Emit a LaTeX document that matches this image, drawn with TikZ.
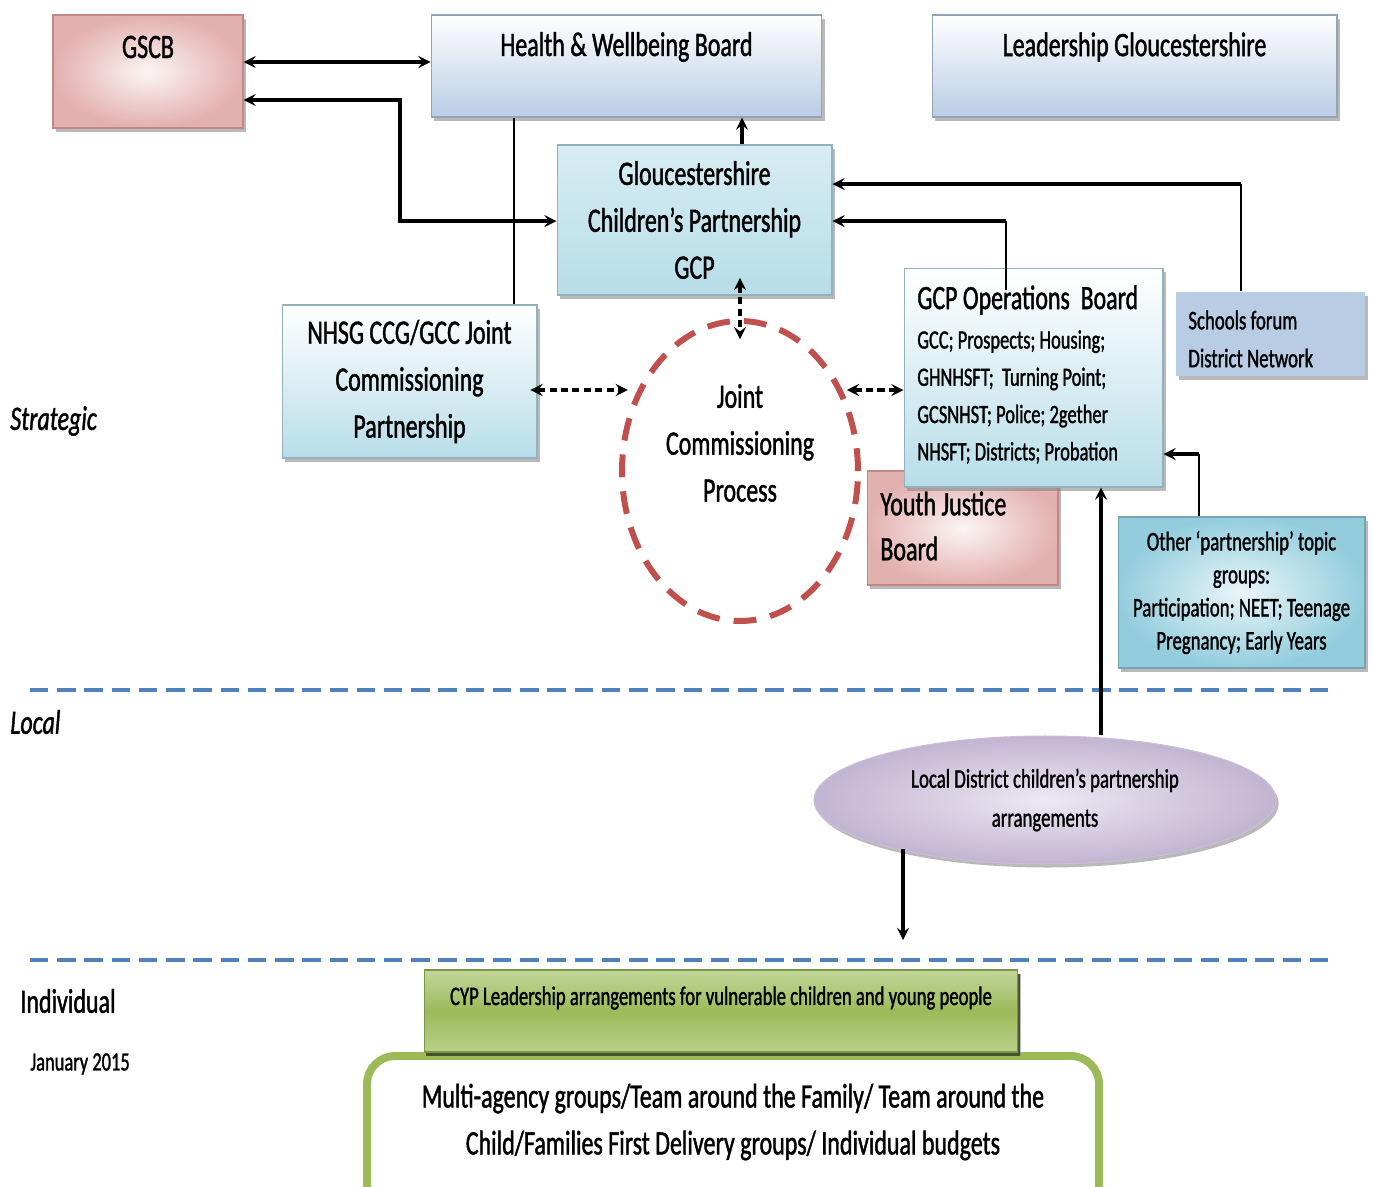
\documentclass[tikz,border=0pt]{standalone}
\usepackage{fontspec}
\setmainfont{Carlito}[FakeStretch=0.7,UprightFeatures={FakeBold=1.2},ItalicFeatures={FakeBold=1.2}]
\usetikzlibrary{shapes.geometric,shadows}
\definecolor{boxblue}{HTML}{B9CDE5}
\definecolor{boxcyan}{HTML}{B7DDE8}
\definecolor{boxteal}{HTML}{93CDDD}
\definecolor{boxred}{HTML}{D99694}
\definecolor{boxsteel}{HTML}{B8CCE4}
\definecolor{boxpurple}{HTML}{B3A2C7}
\definecolor{boxgreen}{HTML}{9BBB59}
\definecolor{lineblue}{HTML}{4F81BD}
\definecolor{circred}{HTML}{C0504D}
\newcommand\bigtxt{\fontsize{19.5}{26.7}\selectfont}
\newcommand\smalltxt{\fontsize{15}{21.2}\selectfont}
\begin{document}
\begin{tikzpicture}[>=stealth,x=0.02cm,y=-0.02cm,
	shadowed/.style={drop shadow={shadow xshift=1.5pt,shadow yshift=-2pt,fill=black!50,opacity=0.55}},
	base/.style={rectangle,inner sep=0pt,line width=0.6pt,shadowed},
	bluebox/.style={base,draw=boxblue!80!black,top color=white,bottom color=boxblue},
	cyanbox/.style={base,draw=boxcyan!80!black,top color=white,bottom color=boxcyan},
	redbox/.style={base,draw=boxred!90!black,inner color=boxred!10!white,outer color=boxred!75!white},
	arr/.style={line width=2pt},
	thinline/.style={line width=0.9pt},
	dasharr/.style={line width=2pt,dash pattern=on 4pt off 2.5pt},
	level/.style={lineblue,line width=2.3pt,dash pattern=on 10.5pt off 5pt},
	lbl/.style={anchor=west,inner sep=0pt}]
	\useasboundingbox (0,0) rectangle (1373,1187);
	% top row
	\node[redbox,minimum width=3.8cm,minimum height=2.26cm] (gscb) at (148,71.5) {};
	\node[font=\bigtxt] (gscbtxt) at (148,47) {GSCB};
	\node[bluebox,minimum width=7.82cm,minimum height=2.04cm] (hw) at (626.5,66) {};
	\node[font=\bigtxt] (hwtxt) at (626.5,47) {Health \& Wellbeing Board};
	\node[bluebox,minimum width=8.1cm,minimum height=2.04cm] (lead) at (1134.5,66) {};
	\node[font=\bigtxt] (leadtxt) at (1134.5,47) {Leadership Gloucestershire};
	% strategic level
	\node[base,draw=boxcyan!80!black,top color=boxcyan!55!white,bottom color=boxcyan,minimum width=5.5cm,minimum height=3cm,align=center,font=\bigtxt] (gcp) at (694.5,220) {Gloucestershire\\Children’s Partnership\\GCP};
	\node[cyanbox,minimum width=5.1cm,minimum height=3.06cm,align=center,font=\bigtxt] (nhsg) at (409.5,381.5) {NHSG CCG/GCC Joint\\Commissioning\\Partnership};
	\node[ellipse,draw=circred,line width=3.4pt,dash pattern=on 13pt off 8pt,minimum width=4.72cm,minimum height=6cm,inner sep=0pt] (jcp) at (740,471) {};
	\node[align=center,font=\bigtxt] (jcptxt) at (740,443) {Joint\\Commissioning\\Process};
	\node[redbox,minimum width=3.82cm,minimum height=2.28cm] (yjb) at (962.5,528) {};
	\node[lbl,align=left,font=\fontsize{19.5}{25.6}\selectfont] (yjbtxt) at (880,526) {Youth Justice\\Board};
	\node[cyanbox,minimum width=5.18cm,minimum height=4.38cm] (ops) at (1033.5,377.5) {};
	\node[lbl,font=\fontsize{19.4}{22}\selectfont] (opstitle) at (917,300) {GCP Operations\ \ Board};
	\node[lbl,align=left,font=\smalltxt] (opstxt) at (917,397) {GCC; Prospects; Housing;\\GHNHSFT;\ \ Turning Point;\\GCSNHST; Police; 2gether\\NHSFT; Districts; Probation};
	\node[base,fill=boxsteel,minimum width=3.78cm,minimum height=1.68cm] (schools) at (1270.5,334) {};
	\node[lbl,align=left,font=\fontsize{15.3}{21.6}\selectfont] (schoolstxt) at (1188,339) {Schools forum\\District Network};
	\node[base,draw=boxteal!80!black,inner color=boxteal!20!white,outer color=boxteal,minimum width=4.94cm,minimum height=3.02cm,align=center,font=\fontsize{15.3}{18.8}\selectfont] (other) at (1241.5,592.5) {Other ‘partnership’ topic\\groups:\\Participation; NEET; Teenage\\Pregnancy; Early Years};
	% level labels
	\node[lbl,font=\itshape\fontsize{19.5}{24}\selectfont] (strategic) at (10,421) {Strategic};
	\node[lbl,font=\itshape\fontsize{19.5}{24}\selectfont] (local) at (10,722) {Local};
	\node[lbl,font=\fontsize{19.5}{24}\selectfont] (individual) at (20,1001) {Individual};
	\node[lbl,font=\fontsize{15}{18}\selectfont] (date) at (30,1064) {January 2015};
	\draw[level] (30,690) -- (1337,690);
	\draw[level] (30,960) -- (1337,960);
	% local and individual
	\node[ellipse,draw=boxpurple!70!white,line width=0.6pt,inner color=boxpurple!25!white,outer color=boxpurple!80!white,shadowed,minimum width=9.24cm,minimum height=2.56cm,inner sep=0pt,align=center,font=\fontsize{15.3}{22.2}\selectfont] (ldcp) at (1045,800) {Local District children’s partnership\\arrangements};
	\draw[boxgreen,line width=4.5pt,rounded corners=16pt,fill=white] (367,1240) -- (367,1056) -- (1099,1056) -- (1099,1240);
	\node[align=center,font=\bigtxt] (multi) at (733,1122) {Multi-agency groups/Team around the Family/ Team around the\\Child/Families First Delivery groups/ Individual budgets};
	\node[base,draw=boxgreen!80!black,top color=boxgreen!60!white,bottom color=boxgreen!70!white,middle color=boxgreen,drop shadow={shadow xshift=1pt,shadow yshift=-2.5pt,fill=boxgreen!40!black,opacity=0.9},minimum width=11.88cm,minimum height=1.64cm] (cyp) at (721,1011) {};
	\node[font=\fontsize{15.2}{18}\selectfont] (cyptxt) at (721,998) {CYP Leadership arrangements for vulnerable children and young people};
	% connectors
	\draw[arr,<->] (gscb.east |- 0,62) -- (hw.west |- 0,62);
	\draw[arr,<->] (gscb.east |- 0,100) -- (400,100) -- (400,221) -- (gcp.west |- 0,221);
	\draw[arr,->] (gcp.north -| 742,0) -- (hw.south -| 742,0);
	\draw[thinline] (hw.south -| 514,0) -- (nhsg.north -| 514,0);
	\draw[dasharr,<->,shorten <=-10pt,shorten >=-12pt] (jcp.north |- gcp.south) -- (jcp.north);
	\draw[dasharr,<->,shorten <=-4pt,shorten >=-5pt] (nhsg.east |- 0,390) -- (jcp.west |- 0,390);
	\draw[dasharr,<->,shorten <=-8pt] (jcp.east |- 0,390) -- (ops.west |- 0,390);
	\coordinate (opsline) at (1006,290);
	\draw[thinline] (opsline) -- (1006,221);
	\draw[arr,->] (1006,221) -- (gcp.east |- 0,221);
	\draw[thinline] (schools.north -| 1241,0) -- (1241,184);
	\draw[arr,->] (1241,184) -- (gcp.east |- 0,184);
	\draw[line width=1.4pt] (other.north -| 1199,0) -- (1199,454);
	\draw[arr,->] (1199,454) -- (ops.east |- 0,454);
	\draw[arr,->] (ldcp.north -| 1101,0) -- (ops.south -| 1101,0);
	\coordinate (ldcpout) at (903,849);
	\coordinate (indiv) at (903,940);
	\draw[arr,->] (ldcpout) -- (indiv);
\end{tikzpicture}
\end{document}
